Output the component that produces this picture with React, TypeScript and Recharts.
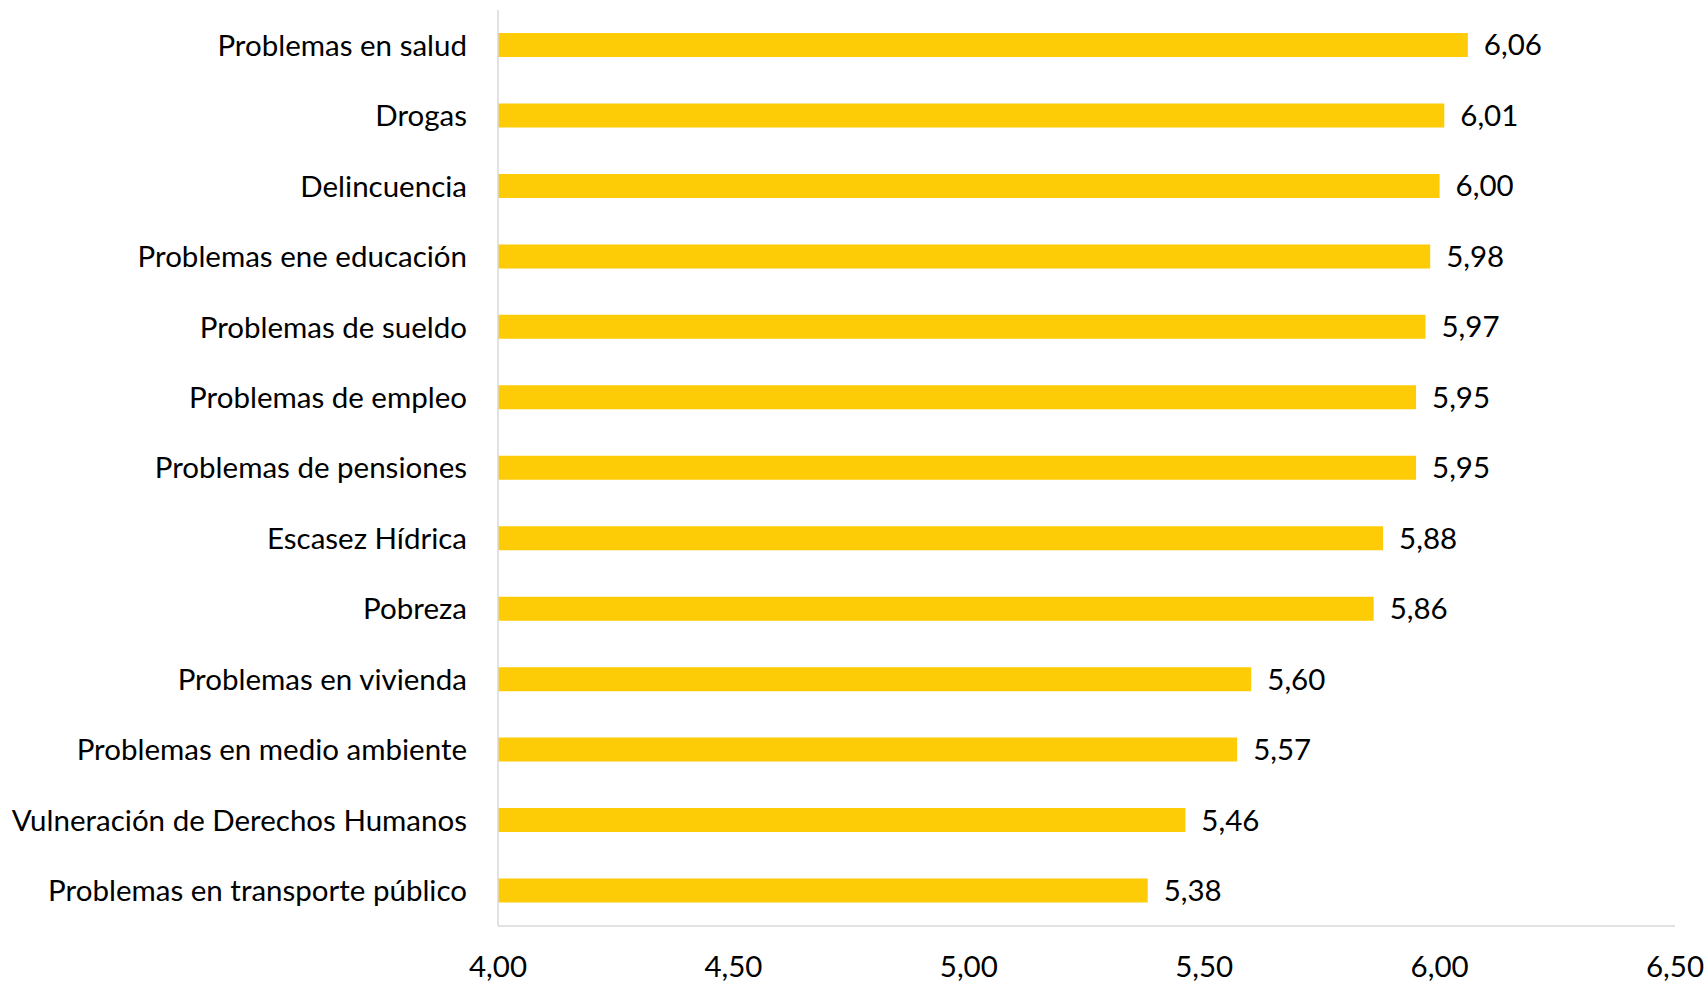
import React from "react";
import { BarChart, Bar, XAxis, YAxis, LabelList } from "recharts";

const categories = [
  "Problemas en salud",
  "Drogas",
  "Delincuencia",
  "Problemas ene educación",
  "Problemas de sueldo",
  "Problemas de empleo",
  "Problemas de pensiones",
  "Escasez Hídrica",
  "Pobreza",
  "Problemas en vivienda",
  "Problemas en medio ambiente",
  "Vulneración de Derechos Humanos",
  "Problemas en transporte público",
];

const values = [6.06, 6.01, 6.0, 5.98, 5.97, 5.95, 5.95, 5.88, 5.86, 5.6, 5.57, 5.46, 5.38];

const xTicks = [4, 4.5, 5, 5.5, 6, 6.5];

const data = categories.map((name, i) => ({ name, value: values[i] }));

const FONT = "Lato, 'Noto Sans', sans-serif";
const SIZE = 29.5;
const fmt = (v: number) => v.toFixed(2).replace(".", ",");

export default function App() {
  return (
    <div style={{ position: "absolute", left: 0, top: 0, background: "#fff", fontFamily: FONT }}>
      <BarChart
        width={1708}
        height={983}
        data={data}
        layout="vertical"
        margin={{ top: 10, right: 33, bottom: 0, left: 0 }}
      >
        <XAxis
          type="number"
          domain={[4, 6.5]}
          ticks={xTicks}
          tickFormatter={fmt}
          axisLine={{ stroke: "#d9d9d9", strokeWidth: 1.5 }}
          tickLine={false}
          tick={{ fill: "#000", fontSize: SIZE, fontFamily: FONT }}
          tickMargin={24}
          height={57}
          allowDataOverflow
        />
        <YAxis
          type="category"
          dataKey="name"
          width={498}
          axisLine={{ stroke: "#d9d9d9", strokeWidth: 1.5 }}
          tickLine={false}
          tick={{ fill: "#000", fontSize: SIZE, fontFamily: FONT }}
          tickMargin={25}
          interval={0}
        />
        <Bar dataKey="value" fill="#fecc06" barSize={24} isAnimationActive={false}>
          <LabelList
            dataKey="value"
            position="right"
            offset={16}
            formatter={(v: number) => fmt(v)}
            style={{ fill: "#000", fontSize: SIZE, fontFamily: FONT }}
          />
        </Bar>
      </BarChart>
    </div>
  );
}
